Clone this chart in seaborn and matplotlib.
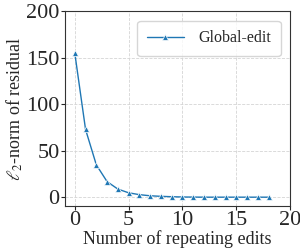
import numpy as np
import pandas as pd
import seaborn as sns
import matplotlib.pyplot as plt

edits = list(range(19))
residual = [155, 73, 35, 17, 9, 5, 3, 1.8, 1.2, 0.8, 0.5, 0.4, 0.3, 0.3, 0.3, 0.3, 0.3, 0.3, 0.3]

sns.set_style('ticks')
plt.rcParams['font.family'] = ['Liberation Serif', 'DejaVu Serif']
plt.rcParams['mathtext.fontset'] = 'stix'

df = pd.DataFrame({'edits': edits, 'residual': residual})

fig, ax = plt.subplots(figsize=(3.0, 2.48), dpi=100)
sns.lineplot(data=df, x='edits', y='residual', marker='^', markersize=5,
             markeredgewidth=0.5, color='#1f77b4', linewidth=1,
             label='Global-edit', ax=ax)

ax.grid(True, linestyle='--', color='#d5d5d5', linewidth=0.6)
ax.set_xlim(-0.9, 20)
ax.set_ylim(-9, 200)
ax.set_xticks([0, 5, 10, 15, 20])
ax.set_yticks([0, 50, 100, 150, 200])
ax.tick_params(labelsize=16, length=3, pad=1)
ax.set_xlabel('Number of repeating edits', fontsize=13, labelpad=0)
ax.set_ylabel(r'$\ell_2$-norm of residual', fontsize=13, labelpad=1)
for s in ax.spines.values():
    s.set_color('#333333')
ax.legend(loc='upper right', fontsize=11.5, frameon=True, handlelength=2.3,
          handletextpad=0.9, borderpad=0.6, borderaxespad=0.6)

plt.subplots_adjust(left=0.217, right=0.967, top=0.955, bottom=0.17)
plt.savefig('out.png', dpi=100)
